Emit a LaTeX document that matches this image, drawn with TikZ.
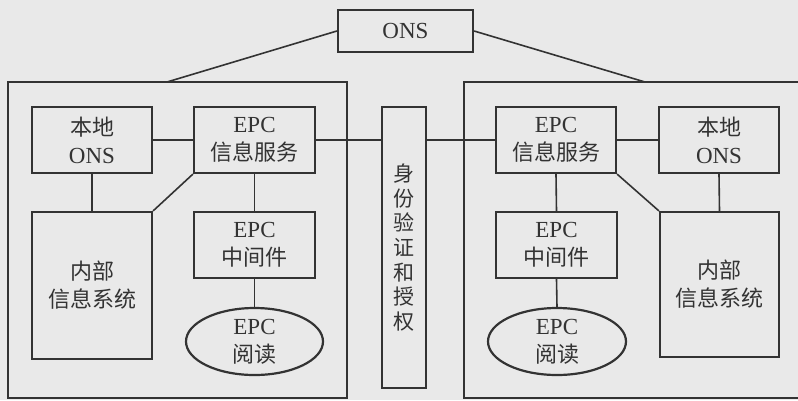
\documentclass[tikz,border=0pt]{standalone}
\usepackage{fontspec}
\setmainfont{Liberation Serif}
\newfontfamily\cjk{Noto Sans CJK SC}
\usetikzlibrary{shapes.geometric}
\definecolor{inkcol}{HTML}{333333}
\definecolor{bgcol}{HTML}{E9E9E9}
\newcommand\zh[1]{{\cjk\fontsize{22}{28}\selectfont #1}}
\tikzset{
  box/.style={draw=inkcol, line width=2.2pt, rectangle, inner sep=0pt, align=center,
    text=inkcol, font=\fontsize{23}{28}\selectfont},
  oval/.style={box, ellipse},
  link/.style={draw=inkcol, line width=1.6pt},
}
\begin{document}
\begin{tikzpicture}[x=1pt,y=-1pt]
\useasboundingbox (0,0) rectangle (798,400);
\fill[bgcol] (0,0) rectangle (798,400);
\clip (0,0) rectangle (798,400);
% outer systems
\node[box, minimum width=339pt, minimum height=316pt] (lsys) at (177.5,240) {};
\node[box, minimum width=346pt, minimum height=316pt] (rsys) at (637,240) {};
% ONS
\node[box, minimum width=135pt, minimum height=42pt] (ons) at (405.5,31) {ONS};
\coordinate (ltop) at (167,82);
\coordinate (rtop) at (645,82);
% left side
\node[box, minimum width=120pt, minimum height=66pt] (lons) at (92,140) {\zh{本地}\\ONS};
\node[box, minimum width=121pt, minimum height=66pt] (linfo) at (254.5,140) {EPC\\\zh{信息服务}};
\node[box, minimum width=120pt, minimum height=147pt] (lint) at (92,285.5) {\zh{内部}\\\zh{信息系统}};
\node[box, minimum width=121pt, minimum height=66pt] (lmid) at (254.5,245) {EPC\\\zh{中间件}};
\node[oval, minimum width=137pt, minimum height=67pt] (lread) at (254.5,341.5) {EPC\\\zh{阅读}};
% auth
\node[box, minimum width=44pt, minimum height=281pt, font=\fontsize{21}{24.7}\selectfont] (auth) at (404,247.5)
  {{\cjk 身}\\{\cjk 份}\\{\cjk 验}\\{\cjk 证}\\{\cjk 和}\\{\cjk 授}\\{\cjk 权}};
% right side
\node[box, minimum width=120pt, minimum height=66pt] (rinfo) at (556,140) {EPC\\\zh{信息服务}};
\node[box, minimum width=120pt, minimum height=66pt] (rons) at (719,140) {\zh{本地}\\ONS};
\node[box, minimum width=121pt, minimum height=66pt] (rmid) at (556.5,245) {EPC\\\zh{中间件}};
\node[oval, minimum width=138pt, minimum height=67pt] (rread) at (557,341.5) {EPC\\\zh{阅读}};
\node[box, minimum width=119pt, minimum height=145pt] (rint) at (719.5,284.5) {\zh{内部}\\\zh{信息系统}};
% connectors
\draw[link] (ons.west) -- (ltop);
\draw[link] (ons.east) -- (rtop);
\draw[link] (lons.east) -- (linfo.west);
\draw[link] (linfo.east) -- (linfo.east -| auth.west);
\draw[link] (auth.east |- rinfo.west) -- (rinfo.west);
\draw[link] (rinfo.east) -- (rons.west);
\draw[link] (lons.south) -- (lint.north);
\draw[link] (linfo.south west) -- (lint.north east);
\draw[link] (linfo.south) -- (lmid.north);
\draw[link] (lmid.south) -- (lread.north);
\draw[link] (rinfo.south) -- (rmid.north);
\draw[link] (rmid.south) -- (rread.north);
\draw[link] (rinfo.south east) -- (rint.north west);
\draw[link] (rons.south) -- (rint.north);
\end{tikzpicture}
\end{document}
